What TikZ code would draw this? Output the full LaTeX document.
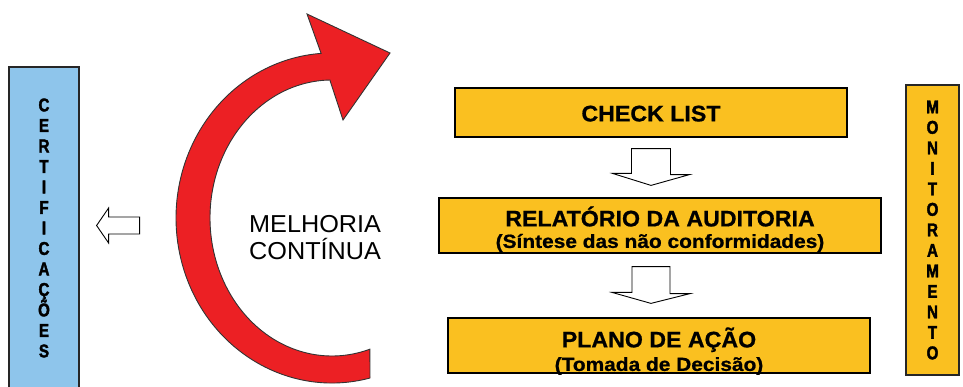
\documentclass[tikz,border=0pt]{standalone}
\usepackage{fontspec}
\setmainfont{Liberation Sans}
\newfontfamily\boxfont[FakeStretch=1.03, BoldFeatures={FakeBold=0.8}]{Liberation Sans}
\newfontfamily\subfont[FakeStretch=1.1, BoldFeatures={FakeBold=0.8}]{Liberation Sans}
\newfontfamily\tallfont[FakeStretch=0.82, BoldFeatures={FakeBold=2}]{Liberation Sans}
\usepackage{tikz}
\usetikzlibrary{calc}
\definecolor{certblue}{RGB}{142,197,235}
\definecolor{boxyellow}{RGB}{250,192,32}
\definecolor{loopred}{RGB}{236,32,36}
\tikzstyle{stepbox} = [rectangle, draw=black, line width=1.2pt, fill=boxyellow, inner sep=0pt]
\tikzstyle{sidebox} = [rectangle, draw=black!85, line width=1.2pt, inner sep=0pt, align=center, font=\tallfont\bfseries\fontsize{18.5}{20.5}\selectfont]
\tikzstyle{boxtitle} = [inner sep=0pt, anchor=base, font=\boxfont\bfseries\fontsize{22.5}{27}\selectfont]
\tikzstyle{boxsub} = [inner sep=0pt, anchor=base, font=\subfont\bfseries\fontsize{19}{23}\selectfont]
\tikzstyle{hollow} = [draw=black, fill=white, line width=0.9pt, line join=miter]
\tikzstyle{redarrow} = [draw=black!80, fill=loopred, line width=0.9pt]

\begin{document}
\begin{tikzpicture}[x=1pt, y=-1pt]
\useasboundingbox (0,0) rectangle (963,387);

%Laterais==============================================
\node (cert) [sidebox, fill=certblue, minimum width=70, minimum height=322] at (44,228)
  {C\\E\\R\\T\\I\\F\\I\\C\\A\\Ç\\Õ\\E\\S};
\node (mon) [sidebox, fill=boxyellow, minimum width=53, minimum height=290] at (932.5,230)
  {M\\O\\N\\I\\T\\O\\R\\A\\M\\E\\N\\T\\O};

%Caixa 1==============================================
\node (check) [stepbox, minimum width=392, minimum height=49] at (651,112.5) {};
\node[boxtitle] (chkt) at ($(check.north)+(0,34)$) {CHECK LIST};

%Caixa 2==============================================
\node (rel) [stepbox, minimum width=442, minimum height=55] at (660,225.5) {};
\node[boxtitle] (relt) at ($(rel.north)+(0,29)$) {RELATÓRIO DA AUDITORIA};
\node[boxsub] (relsub) at ($(rel.north)+(0,50.5)$) {(Síntese das não conformidades)};

%Caixa 3==============================================
\node (plano) [stepbox, minimum width=422, minimum height=55] at (659,345.5) {};
\node[boxtitle] (planot) at ($(plano.north)+(0,30)$) {PLANO DE AÇÃO};
\node[boxsub] (planosub) at ($(plano.north)+(0,53.5)$) {(Tomada de Decisão)};

%Melhoria continua=====================================
\node[align=left, anchor=base west, inner sep=0pt, font=\boxfont\fontsize{24.5}{28}\selectfont] (melhoria) at (249,260) {MELHORIA\\CONTÍNUA};
\coordinate (loopc) at (332,218);
\draw[redarrow] ([shift={(75.9:156 and 165)}]loopc) arc[start angle=75.9, end angle=266, x radius=156, y radius=165]
  -- (307,14) -- (390,53) -- (343,120)
  -- ([shift={(269:122 and 138)}]loopc) arc[start angle=269, end angle=71.9, x radius=122, y radius=138] -- cycle;

%Setas================================================
\draw[hollow] ($(check.south)+(-19.5,11)$) -- ++(39,0) -- ++(0,26) -- ++(19,0)
  -- ($(check.south |- rel.north)+(0,-12)$) -- ++(-38.5,-12) -- ++(19,0) -- cycle;
\draw[hollow] ($(check.south |- rel.south)+(-19,13)$) -- ++(38,0) -- ++(0,27) -- ++(20,0)
  -- ($(check.south |- plano.north)+(0,-14)$) -- ++(-39,-11) -- ++(20,0) -- cycle;
\draw[hollow] ($(cert.east)+(17,-2.5)$) -- ++(12,-17.5) -- ++(0,9) -- ++(31,0) -- ++(0,17)
  -- ++(-31,0) -- ++(0,9) -- cycle;
\end{tikzpicture}
\end{document}
